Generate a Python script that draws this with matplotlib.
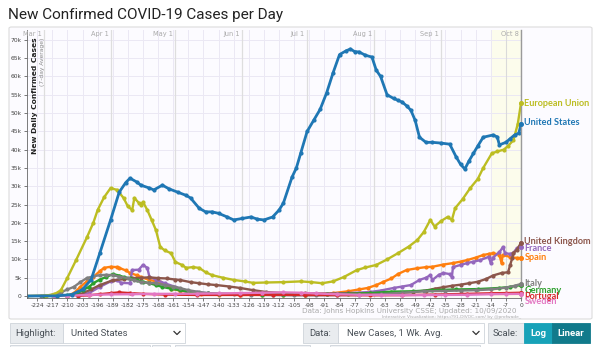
import matplotlib.pyplot as plt
from matplotlib.patches import FancyBboxPatch, Rectangle
from matplotlib.lines import Line2D

# days before Oct 8 2020, values in thousands (7-day avg of new cases)
us_days = [-229, -215, -208, -203, -199, -195, -190, -186, -183, -181, -178, -176, -172, -170, -166, -163,
           -159, -155, -153, -149, -146, -143, -140, -136, -133, -129, -125, -122, -119, -115, -112, -110,
           -106, -104, -102, -99, -96, -93, -90, -87, -84, -81, -79, -77, -75, -72, -69, -67, -65, -62,
           -59, -57, -55, -53, -51, -49, -47, -44, -41, -37, -33, -30, -28, -26, -24, -22, -20, -17.5,
           -13, -11, -10, -7, -5, -3, -1, 0]
us_vals = [0, 0.05, 0.4, 1.8, 4.5, 11.7, 20.8, 28.4, 31, 32.2, 31.2, 30.3, 29.5, 29, 30.3, 29.3,
           28.4, 27.5, 26.8, 24, 23, 23, 22.6, 21.6, 20.8, 21.2, 21.6, 21, 20.8, 21.6, 23.5, 25.4,
           32.5, 35, 39, 45, 48, 51, 55.5, 61, 66, 67, 67.5, 66.8, 66.7, 65.8, 65.3, 61.7, 60, 55,
           54, 53.5, 53, 52, 50.8, 48, 43.4, 42, 42, 41.8, 41.5, 38, 36, 34.7, 37, 39, 41, 43.4,
           44, 43.5, 41.3, 42, 43, 44, 44.5, 47]

eu_days = [-229, -220, -216, -213, -210, -206, -201, -198, -196, -193, -190, -187, -184, -182, -180, -179,
           -177, -176, -175, -173, -171, -169, -167, -165, -162, -160, -157, -155, -152, -149, -146, -143,
           -138, -133, -128, -124, -118, -110, -102, -97, -92, -87, -82, -76, -72, -67, -62, -57, -52,
           -48, -45, -42, -40, -37, -34, -32, -30.5, -27, -23.5, -20, -17.5, -13.5, -11, -8, -6, -3.5,
           -1.5, 0]
eu_vals = [0, 0.1, 0.5, 1.6, 5, 9.8, 16, 20, 23.5, 27, 29.5, 29, 26.8, 24.5, 23.5, 26.8,
           25.5, 25, 25.7, 23.5, 20.8, 18, 13.4, 12.5, 11.7, 9.3, 8.5, 7.7, 7.9, 7.7, 6.5, 5.7,
           5.0, 4.4, 4.0, 3.6, 3.7, 3.8, 4.0, 3.8, 3.5, 4.0, 5.2, 7.1, 7.8, 8.5, 10.0, 11.7, 13.5,
           15.3, 17.5, 20.8, 19, 20.5, 21.6, 20.8, 24, 26.5, 29.5, 32, 35, 39, 39.5, 40, 41, 42.6,
           47, 52.7]

uk_days = [-210, -204, -199, -195, -189, -184, -180, -176, -172, -168, -164, -160, -158, -153, -149, -145,
           -141, -135, -130, -124, -118, -110, -100, -90, -80, -70, -60, -50, -44, -40, -36, -32, -28,
           -24, -20, -16, -13, -9, -6, -5, -4, -3.5, -2, 0]
uk_vals = [0.1, 0.5, 1.8, 3.0, 4.3, 4.6, 4.9, 5.0, 5.1, 4.9, 4.8, 4.5, 4.4, 3.8, 3.5, 3.2,
           3.0, 2.6, 2.2, 1.6, 1.1, 0.8, 0.7, 0.65, 0.7, 0.75, 0.9, 1.1, 1.5, 2.0, 2.4, 2.8, 3.1,
           3.5, 3.9, 4.7, 5.6, 6.3, 6.5, 8.5, 10.5, 11.7, 12.6, 14.5]

fr_days = [-205, -200, -195, -190, -187, -185, -181, -180, -177, -175, -173, -172, -169, -165, -160, -155,
           -150, -145, -140, -130, -120, -110, -100, -90, -80, -70, -65, -59, -55, -51, -47, -44, -42,
           -41, -38, -36, -33, -32, -31.5, -28, -25, -22, -19, -15, -14, -13, -10, -8.3, -7.4, -5,
           -3.7, -2, 0]
fr_vals = [0.1, 0.8, 2.5, 4.0, 4.3, 3.6, 3.5, 7.1, 7.2, 8.5, 7.7, 5.2, 4.5, 3.5, 2.5, 1.5,
           1.0, 0.8, 0.6, 0.5, 0.5, 0.5, 0.5, 0.6, 0.8, 1.1, 1.5, 2.2, 2.6, 3.0, 4.4, 5.0, 5.7,
           4.4, 5.8, 6.3, 6.0, 5.2, 7.9, 8.5, 9.0, 9.4, 9.8, 10.7, 9.0, 10.5, 12, 13.4, 11.7, 11.5,
           11.7, 13, 13.4]

es_days = [-210, -207, -204, -201, -198, -195, -193, -190, -187, -186, -183, -181, -178, -176, -172, -167,
           -165, -162, -158, -153, -148, -140, -130, -120, -110, -100, -95, -87, -80, -75, -71, -67, -64,
           -60, -57, -53, -48, -44, -41, -36, -31.5, -28, -25, -21, -17.5, -15, -13, -10, -9, -8.5,
           -5, -2, 0]
es_vals = [0.1, 0.8, 2.5, 4.0, 5.2, 6.8, 7.7, 8.0, 7.9, 7.7, 7.0, 6.3, 5.7, 5.2, 4.4, 3.8,
           3.3, 2.0, 1.5, 1.0, 0.6, 0.4, 0.3, 0.3, 0.35, 0.4, 0.5, 0.8, 1.3, 1.8, 2.2, 3.0, 3.8,
           4.8, 6.0, 7.1, 7.6, 7.9, 8.0, 8.6, 9.0, 9.4, 9.8, 10.5, 11.2, 11.5, 11.7, 11.3, 9.0, 11.2,
           10.7, 10.4, 10.4]

it_days = [-229, -222, -217, -213, -210, -207, -204, -201, -198, -195, -192, -189, -186, -182, -179, -176,
           -172, -169, -165, -161, -158, -154, -149, -145, -140, -133, -125, -115, -105, -95, -85, -75,
           -65, -55, -45, -35, -28, -21, -14, -7, -3, 0]
it_vals = [0.0, 0.1, 0.3, 1.0, 1.8, 2.5, 3.8, 4.9, 5.4, 5.7, 5.8, 5.7, 5.3, 4.9, 4.3, 3.8,
           3.6, 3.5, 3.0, 2.6, 2.2, 1.6, 1.1, 0.8, 0.6, 0.5, 0.35, 0.25, 0.2, 0.2, 0.25, 0.3,
           0.5, 0.9, 1.3, 1.4, 1.5, 1.6, 1.8, 2.3, 2.8, 3.3]

de_days = [-221, -215, -210, -206, -203, -200, -198, -195, -192, -189, -186, -184, -181, -178, -175, -172,
           -169, -166, -162, -158, -154, -149, -145, -140, -130, -120, -110, -100, -90, -80, -70, -60,
           -50, -41, -30, -20, -10, -5, 0]
de_vals = [0, 0.05, 0.2, 0.6, 1.6, 2.5, 3.5, 4.5, 5.2, 6.0, 5.6, 5.2, 4.8, 4.4, 3.9, 3.5,
           3.0, 2.5, 2.0, 1.6, 1.2, 0.8, 0.7, 0.6, 0.5, 0.4, 0.4, 0.4, 0.5, 0.6, 0.8, 1.2,
           1.3, 1.6, 1.8, 1.9, 2.2, 2.5, 3.0]

pt_days = [-205, -200, -195, -190, -186, -181, -175, -165, -150, -130, -115, -100, -85, -70, -55, -40,
           -25, -14, -7, 0]
pt_vals = [0.05, 0.2, 0.5, 0.8, 1.0, 0.8, 0.6, 0.4, 0.3, 0.3, 0.35, 0.3, 0.25, 0.2, 0.25, 0.4,
           0.6, 0.75, 0.8, 0.9]

se_days = [-216, -210, -200, -190, -180, -170, -160, -150, -140, -130, -120, -110, -102, -95, -85, -75,
           -65, -55, -45, -35, -25, -14, -7, 0]
se_vals = [0.0, 0.1, 0.3, 0.45, 0.5, 0.6, 0.6, 0.65, 0.7, 0.8, 0.9, 1.0, 0.9, 0.7, 0.5, 0.35,
           0.3, 0.25, 0.25, 0.3, 0.35, 0.5, 0.55, 0.6]

# name, days, values, colour, label y (k)
series = [
    ("Spain", es_days, es_vals, "#ff7f0e", 10.4),
    ("France", fr_days, fr_vals, "#9467bd", 13.1),
    ("United Kingdom", uk_days, uk_vals, "#8c564b", 15.0),
    ("Germany", de_days, de_vals, "#2ca02c", 1.6),
    ("Italy", it_days, it_vals, "#7f7f7f", 3.3),
    ("Portugal", pt_days, pt_vals, "#d62728", 0.0),
    ("Sweden", se_days, se_vals, "#e377c2", -1.6),
    ("European Union", eu_days, eu_vals, "#bcbd22", 52.7),
    ("United States", us_days, us_vals, "#1f77b4", 47.3),
]

week_ticks = list(range(-224, 1, 7))
month_names = ["Mar 1", "Apr 1", "May 1", "Jun 1", "Jul 1", "Aug 1", "Sep 1", "Oct 8"]
month_days = [-221, -190, -160, -129, -99, -68, -37, 0]

W, H = 600, 347
fig = plt.figure(figsize=(6, 3.47), dpi=100)
fig.patch.set_facecolor("white")


def fx(px):
    return px / W


def fy(py):
    return 1 - py / H


# chart frame, behind the axes
fig.add_artist(FancyBboxPatch((fx(9), fy(319)), fx(583), fy(27) - fy(319),
                              boxstyle="round,pad=0,rounding_size=0.004",
                              transform=fig.transFigure, facecolor="#fcfbff",
                              edgecolor="#dcdcdc", lw=0.8, zorder=-10))

fig.text(fx(8), fy(15), "New Confirmed COVID-19 Cases per Day", fontsize=11,
         family="Roboto", color="#222", va="center", ha="left")

ax = fig.add_axes([fx(27), fy(297.5), fx(521) - fx(27), fy(30) - fy(297.5)])
ax.set_facecolor("#fcfbff")
ax.set_xlim(-228.7, 0)
ax.set_ylim(-0.4, 72.7)

ax.axvspan(-14, 0, color="#fcfcec", zorder=0)
for d in week_ticks:
    ax.axvline(d, color="#ebe8f4", lw=0.7, zorder=0.5)
for y in range(5, 71, 5):
    ax.axhline(y, color="#ebe8f4", lw=0.7, zorder=0.5)
for name, d in zip(month_names, month_days):
    ax.axvline(d, color="#dedede", lw=0.9, zorder=0.6)
    ax.text(d - 1, 72.3, name, fontsize=4.8, color="#aaaaaa", ha="right", va="top")
ax.axvline(-7, color="#dadada", lw=0.8, zorder=0.6)

for name, days, vals, color, label_y in series:
    lw = 2.0 if name == "United States" else 1.7
    ax.plot(days, vals, color=color, lw=lw, marker="o", ms=2.0,
            solid_joinstyle="round", zorder=2)
    ax.plot([0], [vals[-1]], "o", color=color, ms=2.6, clip_on=False, zorder=3)
    ax.text(1.6, label_y, name, color=color, fontsize=6.6, fontweight="bold",
            family="Lato", va="center", ha="left", clip_on=False)

ax.spines["top"].set_visible(False)
ax.spines["right"].set_color("#9a9a9a")
ax.spines["right"].set_linewidth(1.0)
ax.spines["left"].set_color("#666")
ax.spines["left"].set_linewidth(0.6)
ax.spines["bottom"].set_color("#666")
ax.spines["bottom"].set_linewidth(0.6)

ax.set_yticks(range(0, 71, 5))
ax.set_yticklabels(["0"] + [f"{v}k" for v in range(5, 71, 5)])
ax.set_xticks(week_ticks)
ax.set_xticklabels([str(d) for d in week_ticks])
ax.tick_params(axis="both", labelsize=4.3, colors="#444", length=2.5, width=0.5, pad=1.5)

ax.text(0.017, 0.972, "New Daily Confirmed Cases", transform=ax.transAxes, rotation=90,
        fontsize=5.4, fontweight="bold", color="#222", va="top", ha="center")
ax.text(0.031, 0.972, "(7-day Average)", transform=ax.transAxes, rotation=90,
        fontsize=4.3, color="#888", va="top", ha="center")

fig.text(fx(516), fy(311), "Data: Johns Hopkins University CSSE; Updated: 10/09/2020",
         fontsize=5.2, color="#aaaaaa", ha="right", va="center")
fig.text(fx(521), fy(317), "Interactive Visualization: https://91-DIVOC.com/ by @profwade_",
         fontsize=3.2, color="#aaaaaa", ha="right", va="center")


# controls under the chart
def box(x0, x1, y0, y1, face, edge="#ced4da"):
    fig.add_artist(Rectangle((fx(x0), fy(y1)), fx(x1) - fx(x0), fy(y0) - fy(y1),
                             transform=fig.transFigure, facecolor=face, edgecolor=edge, lw=0.6))


def caret(x, y):
    fig.add_artist(Line2D([fx(x - 3), fx(x), fx(x + 3)], [fy(y - 1.5), fy(y + 1.5), fy(y - 1.5)],
                          transform=fig.transFigure, color="#333", lw=0.9))


box(10, 63, 323, 343, "#e9ecef")
box(63, 185, 323, 343, "white")
fig.text(fx(15), fy(333), "Highlight:", fontsize=6.8, family="Roboto", color="#495057", va="center")
fig.text(fx(71), fy(333), "United States", fontsize=6.8, family="Roboto", color="#495057", va="center")
caret(177, 333)

box(303, 338, 323, 343, "#e9ecef")
box(338, 484, 323, 343, "white")
fig.text(fx(309), fy(333), "Data:", fontsize=6.8, family="Roboto", color="#495057", va="center")
fig.text(fx(347), fy(333), "New Cases, 1 Wk. Avg.", fontsize=6.8, family="Roboto", color="#495057", va="center")
caret(476, 333)

box(488, 524, 323, 343, "#e9ecef")
box(524, 552, 323, 343, "#17a2b8", edge="#17a2b8")
box(552, 590, 323, 343, "#117a8b", edge="#117a8b")
fig.text(fx(493), fy(333), "Scale:", fontsize=6.8, family="Roboto", color="#495057", va="center")
fig.text(fx(538), fy(333), "Log", fontsize=6.8, family="Roboto", color="white",
         fontweight="bold", va="center", ha="center")
fig.text(fx(571), fy(333), "Linear", fontsize=6.8, family="Roboto", color="white",
         fontweight="bold", va="center", ha="center")

# next row of controls, cut off by the picture edge
for x0, x1 in [(10, 150), (152, 170), (175, 310), (330, 480)]:
    box(x0, x1, 345, 352, "#f1f3f5")

fig.savefig("out.png", dpi=100)
